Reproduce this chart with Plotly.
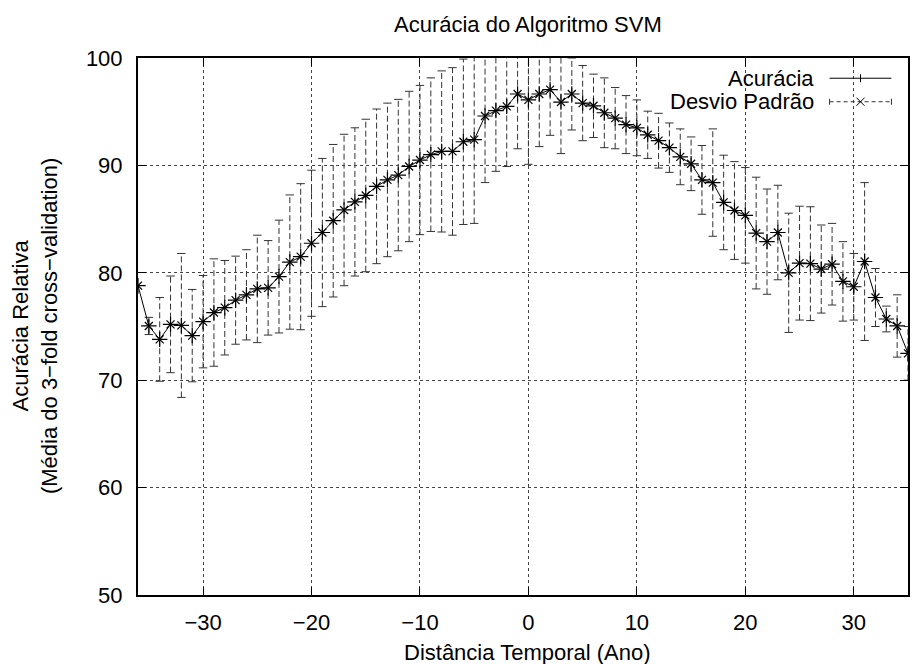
import plotly.graph_objects as go

# ---------------- data ----------------
distancia = list(range(-36, 36))
acuracia = [78.8, 75.05, 73.8, 75.2, 75.1, 74.15, 75.45, 76.3, 76.75, 77.45,
            77.95, 78.5, 78.6, 79.65, 81.0, 81.5, 82.75, 83.75, 84.85, 85.85,
            86.6, 87.2, 88.05, 88.65, 89.1, 89.9, 90.5, 91.0, 91.3, 91.3,
            92.2, 92.4, 94.6, 95.1, 95.5, 96.65, 96.1, 96.65, 97.05, 95.9,
            96.65, 95.8, 95.55, 94.9, 94.4, 93.8, 93.5, 92.85, 92.3, 91.65,
            90.8, 90.15, 88.65, 88.4, 86.55, 85.8, 85.35, 83.7, 82.9, 83.75,
            80.0, 80.9, 80.85, 80.35, 80.8, 79.2, 78.7, 81.05, 77.7, 75.7,
            75.05, 72.5]
desvio = [0.0, 0.8, 3.9, 4.5, 6.7, 4.3, 4.3, 5.0, 4.4, 4.1,
          4.2, 5.0, 4.4, 5.25, 6.25, 6.8, 6.8, 6.9, 7.1, 7.05,
          6.9, 7.1, 7.2, 7.15, 7.05, 7.0, 6.95, 7.15, 7.5, 7.8,
          7.7, 7.8, 6.2, 5.65, 5.6, 5.1, 6.0, 4.9, 4.25, 4.8,
          3.35, 3.5, 2.95, 3.25, 2.85, 2.7, 2.6, 2.2, 2.55, 2.3,
          2.6, 2.5, 3.2, 5.0, 4.4, 4.55, 4.45, 5.2, 4.9, 4.4,
          5.55, 5.3, 5.3, 4.1, 3.8, 3.7, 3.1, 7.35, 2.7, 1.2,
          2.9, 2.5]

x_tick_vals = [-30, -20, -10, 0, 10, 20, 30]
x_tick_labels = ["\u221230", "\u221220", "\u221210", "0", "10", "20", "30"]
y_tick_vals = [50, 60, 70, 80, 90, 100]
y_tick_labels = ["50", "60", "70", "80", "90", "100"]

titulo = "Acurácia do Algoritmo SVM"
titulo_x = "Distância Temporal (Ano)"
titulo_y = "Acurácia Relativa<br>(Média do 3\u2212fold cross\u2212validation)"
nome_serie1 = "Acurácia"
nome_serie2 = "Desvio Padrão"

# ---------------- layout helpers ----------------
W, H = 914, 664
L, R, T, B = 137.7, 909.6, 58.3, 594.7
FONT = "Liberation Sans, Arial, Helvetica, sans-serif"
FS = 22


def px(x):
    return (x - L) / (R - L)


def py(y):
    return (B - y) / (B - T)


# ---------------- traces ----------------
bar_x, bar_y, cap_x, cap_y = [], [], [], []
for xv, m, s in zip(distancia, acuracia, desvio):
    if s <= 0:
        continue
    bar_x += [xv, xv, None]
    bar_y += [m - s, m + s, None]
    cap_x += [xv, xv]
    cap_y += [m - s, m + s]

bar_color = "#333333"

fig = go.Figure()
fig.add_trace(go.Scatter(
    x=bar_x, y=bar_y, mode="lines",
    line=dict(color=bar_color, width=1, dash="6px,3px"),
    showlegend=False, hoverinfo="skip"))
fig.add_trace(go.Scatter(
    x=cap_x, y=cap_y, mode="markers",
    marker=dict(symbol="line-ew", size=6, line=dict(color=bar_color, width=1)),
    showlegend=False, hoverinfo="skip"))
fig.add_trace(go.Scatter(
    x=distancia, y=acuracia, mode="lines+markers", name=nome_serie1,
    line=dict(color="black", width=1),
    marker=dict(symbol="cross-thin", size=11, line=dict(color="black", width=1.2)),
    showlegend=False))
fig.add_trace(go.Scatter(
    x=distancia, y=acuracia, mode="markers", name=nome_serie2,
    marker=dict(symbol="x-thin", size=8, line=dict(color="black", width=1.2)),
    showlegend=False))

axis_common = dict(
    showline=True, linecolor="black", linewidth=2, mirror="ticks",
    ticks="inside", ticklen=8, tickcolor="black", tickwidth=1,
    showgrid=True, gridcolor="#444444", gridwidth=1, griddash="dot",
    zeroline=False,
    tickfont=dict(family=FONT, size=FS, color="black"),
)

fig.update_layout(
    width=W, height=H,
    margin=dict(l=L, r=W - R, t=T, b=H - B, pad=0),
    paper_bgcolor="white", plot_bgcolor="white",
    showlegend=False,
    font=dict(family=FONT, size=FS, color="black"),
    xaxis=dict(range=[-36, 35], tickvals=x_tick_vals, ticktext=x_tick_labels,
               ticklabelstandoff=7, **axis_common),
    yaxis=dict(range=[50, 100], tickvals=y_tick_vals, ticktext=y_tick_labels,
               ticklabelstandoff=9, **axis_common),
)

ann = [
    dict(text=titulo, x=px(529), y=py(25), xanchor="center", yanchor="middle"),
    dict(text=titulo_x, x=px(528), y=py(652), xanchor="center", yanchor="middle"),
    dict(text=titulo_y, x=px(34), y=0.5, xanchor="center", yanchor="middle",
         textangle=-90),
    dict(text=nome_serie1, x=px(817), y=py(79), xanchor="right", yanchor="middle"),
    dict(text=nome_serie2, x=px(817), y=py(102), xanchor="right", yanchor="middle"),
]
for a in ann:
    a.update(xref="paper", yref="paper", showarrow=False,
             font=dict(family=FONT, size=FS, color="black"))
fig.update_layout(annotations=ann)


def seg(x0, y0, x1, y1, color="black", dash="solid"):
    return dict(type="line", xref="paper", yref="paper",
                x0=px(x0), y0=py(y0), x1=px(x1), y1=py(y1),
                line=dict(color=color, width=1, dash=dash))


shapes = [
    seg(831, 78.5, 893, 78.5),
    seg(862, 74.5, 862, 82.5),
    seg(831, 102, 893, 102, bar_color, "4px,3px"),
    seg(831, 99, 831, 105, bar_color),
    seg(893, 99, 893, 105, bar_color),
    seg(858, 98, 866, 106),
    seg(858, 106, 866, 98),
]
fig.update_layout(shapes=shapes)

fig.write_html("out.html")
